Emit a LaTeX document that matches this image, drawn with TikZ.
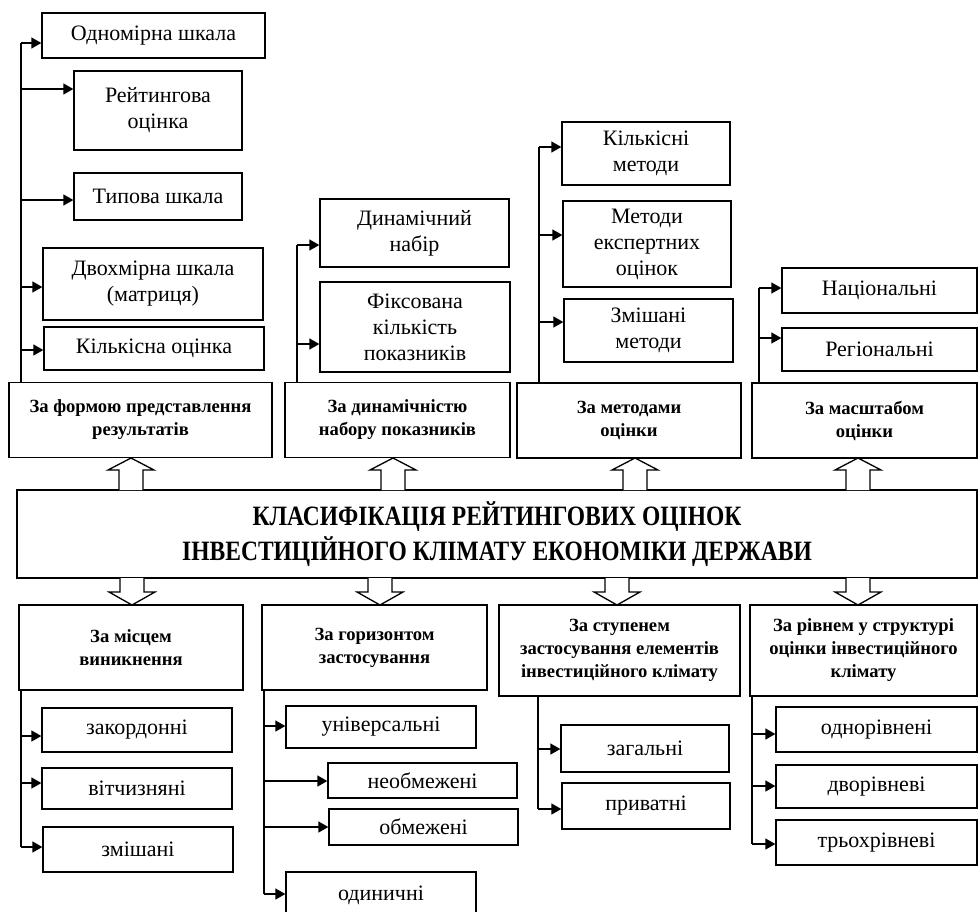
\documentclass[tikz,border=0pt]{standalone}
\usepackage{fontspec}
\setmainfont{Liberation Serif}
\newfontfamily\ttlfam[FakeStretch=0.84]{Liberation Serif}
\usetikzlibrary{arrows.meta,calc}
\newcommand\chfont{\fontsize{22}{26}\selectfont}
\newcommand\hdfont{\fontsize{18.6}{23}\selectfont\bfseries}
\newcommand\ttlfont{\ttlfam\fontsize{28}{35}\selectfont\bfseries}
\tikzset{
  cbox/.style={draw, line width=1.3pt, align=center, inner sep=0pt, font=\chfont},
  hbox/.style={draw, line width=1.8pt, align=center, inner sep=0pt, font=\hdfont},
  mbox/.style={draw, line width=2pt, align=center, inner sep=0pt, font=\ttlfont},
  conn/.style={line width=1.3pt},
  arr/.style={line width=1.3pt, -{Triangle[length=10pt,width=11pt]}},
  barrow/.style={line width=1.3pt, fill=white, line join=miter}
}
\begin{document}
\begin{tikzpicture}[x=1pt,y=-1pt]
\useasboundingbox (0,0) rectangle (979,911);
% main box
\node[mbox, minimum width=960pt, minimum height=88pt] (main) at (497,534)
  {КЛАСИФІКАЦІЯ РЕЙТИНГОВИХ ОЦІНОК\\ІНВЕСТИЦІЙНОГО КЛІМАТУ ЕКОНОМІКИ ДЕРЖАВИ};
% top headers
\node[hbox, minimum width=263pt, minimum height=75pt] (A) at (140.5,420) {За формою представлення\\результатів};
\node[hbox, minimum width=225pt, minimum height=75pt] (B) at (397.5,420) {За динамічністю\\набору показників};
\node[hbox, minimum width=224pt, minimum height=75pt] (C) at (629,420.5) {За методами\\оцінки};
\node[hbox, minimum width=225pt, minimum height=75pt] (D) at (864.5,420.5) {За масштабом\\оцінки};
% bottom headers
\node[hbox, minimum width=224pt, minimum height=85pt] (E) at (131,647.5) {За місцем\\виникнення};
\node[hbox, minimum width=225pt, minimum height=85pt] (F) at (374.5,647.5) {За горизонтом\\застосування};
\node[hbox, minimum width=241pt, minimum height=91pt] (G) at (619.5,650.5) {За ступенем\\застосування елементів\\інвестиційного клімату};
\node[hbox, minimum width=227pt, minimum height=91pt] (H) at (863.5,650.5) {За рівнем у структурі\\оцінки інвестиційного\\клімату};
% block arrows up
\foreach \cx in {131,393,635,858}{
  \draw[barrow] (\cx-12,490) -- (\cx-12,470) -- (\cx-23,470) -- (\cx,458) -- (\cx+23,470) -- (\cx+12,470) -- (\cx+12,490);
}
% block arrows down
\foreach \cx in {132,380,617,858}{
  \draw[barrow] (\cx-12,578) -- (\cx-12,592) -- (\cx-23,592) -- (\cx,605) -- (\cx+23,592) -- (\cx+12,592) -- (\cx+12,578);
}
% A children
\node[cbox, minimum width=223pt, minimum height=45pt] (a1) at (153.5,35.5) {Одномірна шкала};
\node[cbox, minimum width=168pt, minimum height=79pt] (a2) at (158,110.5) {Рейтингова\\оцінка};
\node[cbox, minimum width=168pt, minimum height=47pt] (a3) at (158,196.5) {Типова шкала};
\node[cbox, minimum width=220pt, minimum height=72pt] (a4) at (153,284) {Двохмірна шкала\\(матриця)};
\node[cbox, minimum width=220pt, minimum height=43pt] (a5) at (154,348.5) {Кількісна оцінка};
\coordinate (sa1) at (21,43);
\coordinate (sa2) at (21,89);
\coordinate (sa3) at (21,200);
\coordinate (sa4) at (21,287);
\coordinate (sa5) at (21,350);
\draw[conn] (A.north -| sa1) -- (sa1);
\draw[arr] (sa1) -- (sa1 -| a1.west);
\draw[arr] (sa2) -- (sa2 -| a2.west);
\draw[arr] (sa3) -- (sa3 -| a3.west);
\draw[arr] (sa4) -- (sa4 -| a4.west);
\draw[arr] (sa5) -- (sa5 -| a5.west);
% B children
\node[cbox, minimum width=189pt, minimum height=68pt] (b1) at (414.5,233) {Динамічний\\набір};
\node[cbox, minimum width=190pt, minimum height=90pt] (b2) at (415,327) {Фіксована\\кількість\\показників};
\coordinate (sb1) at (297,245);
\coordinate (sb2) at (297,344);
\draw[conn] (B.north -| sb1) -- (sb1);
\draw[arr] (sb1) -- (sb1 -| b1.west);
\draw[arr] (sb2) -- (sb2 -| b2.west);
% C children
\node[cbox, minimum width=168pt, minimum height=63pt] (c1) at (646,153.5) {Кількісні\\методи};
\node[cbox, minimum width=168pt, minimum height=86pt] (c2) at (647,244) {Методи\\експертних\\оцінок};
\node[cbox, minimum width=169pt, minimum height=63pt] (c3) at (648.5,330.5) {Змішані\\методи};
\coordinate (sc1) at (539,147);
\coordinate (sc2) at (539,235);
\coordinate (sc3) at (539,322);
\draw[conn] (C.north -| sc1) -- (sc1);
\draw[arr] (sc1) -- (sc1 -| c1.west);
\draw[arr] (sc2) -- (sc2 -| c2.west);
\draw[arr] (sc3) -- (sc3 -| c3.west);
% D children
\node[cbox, minimum width=195pt, minimum height=45pt] (d1) at (879.5,290.5) {Національні};
\node[cbox, minimum width=195pt, minimum height=43pt] (d2) at (879.5,349.5) {Регіональні};
\coordinate (sd1) at (759,288);
\coordinate (sd2) at (759,338);
\draw[conn] (D.north -| sd1) -- (sd1);
\draw[arr] (sd1) -- (sd1 -| d1.west);
\draw[arr] (sd2) -- (sd2 -| d2.west);
% E children
\node[cbox, minimum width=190pt, minimum height=44pt] (e1) at (137,730) {закордонні};
\node[cbox, minimum width=190pt, minimum height=41pt] (e2) at (137,788.5) {вітчизняні};
\node[cbox, minimum width=190pt, minimum height=45pt] (e3) at (138,849.5) {змішані};
\coordinate (se1) at (21,736);
\coordinate (se2) at (21,783);
\coordinate (se3) at (21,847);
\draw[conn] (E.south -| se3) -- (se3);
\draw[arr] (se1) -- (se1 -| e1.west);
\draw[arr] (se2) -- (se2 -| e2.west);
\draw[arr] (se3) -- (se3 -| e3.west);
% F children
\node[cbox, minimum width=190pt, minimum height=42pt] (f1) at (381,727) {універсальні};
\node[cbox, minimum width=189pt, minimum height=35pt] (f2) at (422.5,780.5) {необмежені};
\node[cbox, minimum width=189pt, minimum height=36pt] (f3) at (423.5,827) {обмежені};
\node[cbox, minimum width=190pt, minimum height=46pt] (f4) at (381,895) {одиничні};
\coordinate (sf1) at (264,726);
\coordinate (sf2) at (264,781);
\coordinate (sf3) at (264,827);
\coordinate (sf4) at (264,894);
\draw[conn] (F.south -| sf4) -- (sf4);
\draw[arr] (sf1) -- (sf1 -| f1.west);
\draw[arr] (sf2) -- (sf2 -| f2.west);
\draw[arr] (sf3) -- (sf3 -| f3.west);
\draw[arr] (sf4) -- (sf4 -| f4.west);
% G children
\node[cbox, minimum width=168pt, minimum height=47pt] (g1) at (645,748.5) {загальні};
\node[cbox, minimum width=168pt, minimum height=46pt] (g2) at (646,806) {приватні};
\coordinate (sg1) at (538,749);
\coordinate (sg2) at (538,809);
\draw[conn] (G.south -| sg2) -- (sg2);
\draw[arr] (sg1) -- (sg1 -| g1.west);
\draw[arr] (sg2) -- (sg2 -| g2.west);
% H children
\node[cbox, minimum width=201pt, minimum height=45pt] (h1) at (876.5,729.5) {однорівнені};
\node[cbox, minimum width=201pt, minimum height=43pt] (h2) at (876.5,786.5) {дворівневі};
\node[cbox, minimum width=201pt, minimum height=45pt] (h3) at (876.5,842.5) {трьохрівневі};
\coordinate (sh1) at (752,734);
\coordinate (sh2) at (752,786);
\coordinate (sh3) at (752,844);
\draw[conn] (H.south -| sh3) -- (sh3);
\draw[arr] (sh1) -- (sh1 -| h1.west);
\draw[arr] (sh2) -- (sh2 -| h2.west);
\draw[arr] (sh3) -- (sh3 -| h3.west);
\end{tikzpicture}
\end{document}
